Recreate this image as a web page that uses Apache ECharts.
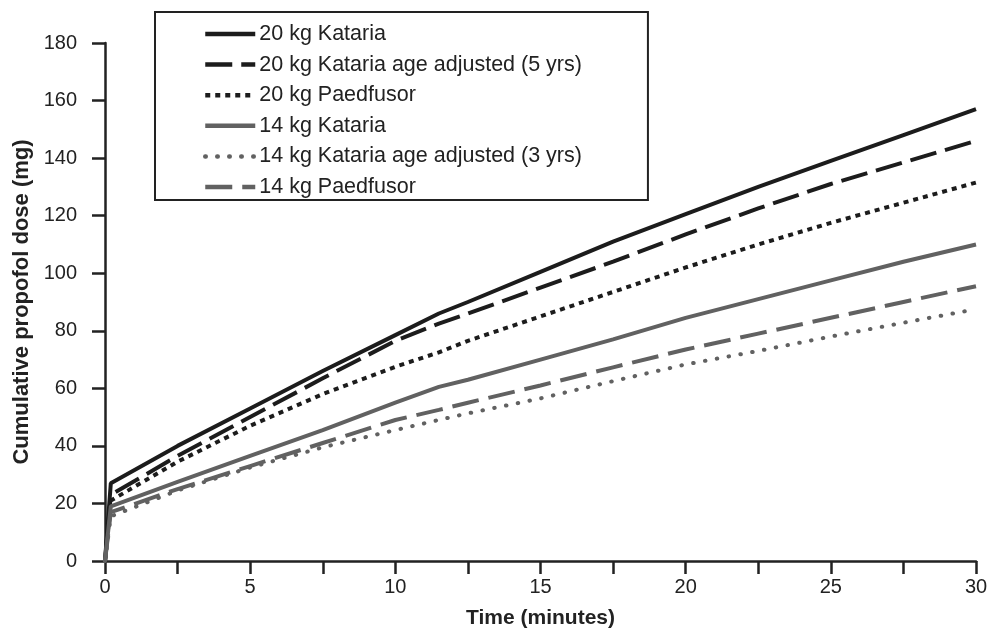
<!DOCTYPE html>
<html>
<head>
<meta charset="utf-8">
<script src="https://cdn.jsdelivr.net/npm/echarts@6/dist/echarts.min.js"></script>
<style>
  html, body { margin: 0; padding: 0; background: #fff; }
  .main { width: 987px; height: 628px; }
</style>
</head>
<body>
<div class="main"></div>
<script>
  // time points (minutes)
  let timeMin = [0, 0.2, 2.5, 5, 7.5, 10, 11.5, 12.5, 15, 17.5, 20, 22.5, 25, 27.5, 30];

  // cumulative propofol dose (mg)
  let kataria20 = [0, 27, 40, 53, 66, 78.5, 86, 90, 100.5, 111, 120.5, 130, 139, 148, 157];
  let kataria20Age = [0, 23, 36.5, 50, 63.5, 76.5, 82.5, 86, 95, 104, 113.5, 122.5, 131, 138.5, 146];
  let paedfusor20 = [0, 21, 34.5, 47, 58, 67.5, 72.5, 76.5, 85, 93.5, 102, 110, 117.5, 124.5, 131.5];
  let kataria14 = [0, 19, 27.5, 36.5, 45.5, 55, 60.5, 63, 70, 77, 84.5, 91, 97.5, 104, 110];
  let kataria14Age = [0, 15.5, 24.5, 32.5, 39.5, 45.5, 49, 51.3, 56.5, 62.5, 68.3, 73, 78, 82.8, 87.5];
  let paedfusor14 = [0, 17, 25, 33, 41, 49, 52.5, 55, 61, 67.3, 73.5, 79, 84.5, 90, 95.5];

  let seriesNames = [
    '20 kg Kataria',
    '20 kg Kataria age adjusted (5 yrs)',
    '20 kg Paedfusor',
    '14 kg Kataria',
    '14 kg Kataria age adjusted (3 yrs)',
    '14 kg Paedfusor'
  ];

  const BLACK = '#1c1c1c',
        GRAY = '#616161',
        AXIS = '#222';

  let myChart = echarts.init(document.querySelector('.main'));

  function pairs(ys) {
    return timeMin.map((t, i) => [t, ys[i]]);
  }

  function makeSeries(name, ys, color, dash, cap) {
    return {
      name: name,
      type: 'line',
      data: pairs(ys),
      symbol: 'none',
      showSymbol: false,
      silent: true,
      lineStyle: {
        color: color,
        width: 4,
        type: dash,
        cap: cap || 'butt'
      },
      itemStyle: { color: color }
    };
  }

  let option = {
    animation: false,
    backgroundColor: '#fff',
    textStyle: { fontFamily: 'Liberation Sans, Arial, sans-serif' },
    grid: { left: 105, right: 11, top: 43, bottom: 67, outerBoundsMode: 'none', containLabel: false },
    legend: {
      data: seriesNames,
      orient: 'vertical',
      left: 155,
      top: 12,
      padding: [11, 66, 2, 48],
      itemGap: 8.6,
      itemWidth: 50,
      itemHeight: 14,
      backgroundColor: '#fff',
      borderColor: AXIS,
      borderWidth: 2,
      borderRadius: 0,
      itemStyle: { opacity: 0 },
      lineStyle: { width: 4.5 },
      textStyle: { fontSize: 21.5, color: AXIS, padding: [0, 0, 0, -1] }
    },
    xAxis: {
      type: 'value',
      min: 0,
      max: 30,
      interval: 2.5,
      name: 'Time (minutes)',
      nameLocation: 'middle',
      nameGap: 47,
      nameTextStyle: { fontSize: 21, fontWeight: 'bold', color: AXIS },
      axisLine: { lineStyle: { color: AXIS, width: 2.5 } },
      axisTick: { length: 13, lineStyle: { color: AXIS, width: 2.5 } },
      axisLabel: {
        fontSize: 20,
        color: AXIS,
        margin: 16,
        formatter: v => (v % 5 === 0 ? String(v) : '')
      },
      splitLine: { show: false }
    },
    yAxis: {
      type: 'value',
      min: 0,
      max: 180,
      interval: 20,
      name: 'Cumulative propofol dose (mg)',
      nameLocation: 'middle',
      nameGap: 71,
      nameTextStyle: { fontSize: 22, fontWeight: 'bold', color: AXIS },
      axisLine: { show: true, lineStyle: { color: AXIS, width: 2.5 } },
      axisTick: { show: true, length: 13, lineStyle: { color: AXIS, width: 2.5 } },
      axisLabel: { fontSize: 20, color: AXIS, margin: 28 },
      splitLine: { show: false }
    },
    series: [
      makeSeries(seriesNames[0], kataria20, BLACK, 'solid'),
      makeSeries(seriesNames[1], kataria20Age, BLACK, [27, 9]),
      makeSeries(seriesNames[2], paedfusor20, BLACK, [5, 5]),
      makeSeries(seriesNames[3], kataria14, GRAY, 'solid'),
      makeSeries(seriesNames[4], kataria14Age, GRAY, [0.5, 11.5], 'round'),
      makeSeries(seriesNames[5], paedfusor14, GRAY, [27, 10])
    ]
  };

  myChart.setOption(option);
</script>
</body>
</html>
